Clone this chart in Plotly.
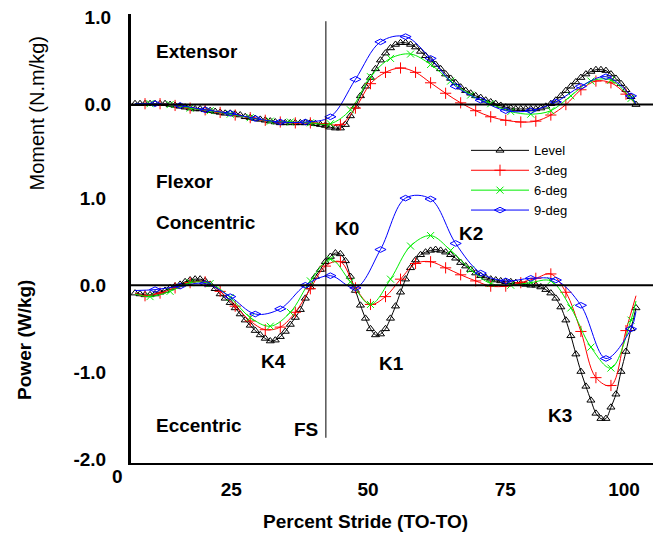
import plotly.graph_objects as go

# ---------------- data (percent of stride, toe-off to toe-off) ----------------
PCT_LEVEL = list(range(0, 101))
LEVEL_MOMENT = [
    0.01, 0.01, 0.01, 0.01, 0.01, 0.01, 0.01, 0.00, -0.01, -0.02,
    -0.03, -0.04, -0.05, -0.05, -0.06, -0.07, -0.08, -0.09, -0.10, -0.10,
    -0.11, -0.12, -0.14, -0.15, -0.16, -0.17, -0.18, -0.19, -0.20, -0.21,
    -0.21, -0.21, -0.21, -0.21, -0.21, -0.21, -0.22, -0.23, -0.24, -0.26,
    -0.27, -0.27, -0.23, -0.13, -0.02, 0.10, 0.21, 0.31, 0.41, 0.51,
    0.59, 0.65, 0.69, 0.71, 0.71, 0.69, 0.66, 0.61, 0.56, 0.51,
    0.46, 0.41, 0.35, 0.30, 0.25, 0.20, 0.16, 0.13, 0.10, 0.08,
    0.05, 0.03, 0.01, -0.01, -0.03, -0.04, -0.05, -0.05, -0.05, -0.05,
    -0.05, -0.04, -0.02, 0.01, 0.05, 0.10, 0.16, 0.21, 0.26, 0.31,
    0.35, 0.38, 0.40, 0.40, 0.39, 0.35, 0.30, 0.24, 0.17, 0.09,
    0.00,
]
LEVEL_POWER = [
    -0.09, -0.10, -0.11, -0.11, -0.10, -0.08, -0.06, -0.03, -0.01, 0.01,
    0.04, 0.06, 0.07, 0.07, 0.05, 0.01, -0.04, -0.10, -0.15, -0.20,
    -0.26, -0.33, -0.40, -0.46, -0.52, -0.57, -0.61, -0.64, -0.63, -0.59,
    -0.53, -0.45, -0.37, -0.28, -0.15, -0.02, 0.10, 0.18, 0.27, 0.33,
    0.37, 0.36, 0.28, 0.10, -0.06, -0.23, -0.38, -0.50, -0.57, -0.56,
    -0.50, -0.38, -0.24, -0.08, 0.07, 0.20, 0.29, 0.35, 0.38, 0.40,
    0.41, 0.40, 0.38, 0.35, 0.31, 0.26, 0.22, 0.18, 0.14, 0.11,
    0.09, 0.07, 0.06, 0.05, 0.04, 0.04, 0.03, 0.02, 0.01, 0.00,
    0.00, -0.02, -0.05, -0.09, -0.15, -0.25, -0.40, -0.58, -0.79, -0.99,
    -1.16, -1.32, -1.47, -1.53, -1.53, -1.40, -1.25, -0.99, -0.76, -0.50,
    -0.26,
]

PCT_3DEG = [0, 2, 5, 8, 11, 14, 17, 20, 23, 26, 29, 32, 35, 38, 41, 44, 47, 50,
            53, 56, 59, 62, 65, 68, 71, 74, 77, 80, 83, 86, 89, 92, 95, 98, 100]
MOMENT_3DEG = [0.01, 0.01, 0.01, -0.01, -0.04, -0.06, -0.09, -0.12, -0.15, -0.18,
               -0.20, -0.21, -0.21, -0.22, -0.23, -0.04, 0.24, 0.37, 0.42, 0.37,
               0.25, 0.13, 0.02, -0.07, -0.14, -0.18, -0.20, -0.19, -0.12, 0.00,
               0.17, 0.27, 0.25, 0.12, 0.00]
POWER_3DEG = [-0.09, -0.12, -0.09, -0.03, 0.03, 0.04, -0.07, -0.24, -0.41, -0.51,
              -0.48, -0.31, -0.04, 0.22, 0.27, -0.03, -0.22, -0.13, 0.07, 0.25,
              0.27, 0.20, 0.12, 0.05, -0.01, -0.01, 0.03, 0.08, 0.13, -0.08,
              -0.53, -1.06, -1.15, -0.52, -0.12]

PCT_6DEG = [0, 3, 7, 11, 15, 19, 23, 27, 31, 35, 39, 43, 47, 51, 55, 59, 63, 67,
            71, 75, 79, 83, 87, 91, 95, 99, 100]
MOMENT_6DEG = [0.01, 0.01, 0.00, -0.04, -0.07, -0.11, -0.15, -0.19, -0.20, -0.21,
               -0.22, -0.06, 0.32, 0.53, 0.58, 0.46, 0.27, 0.11, 0.01, -0.08,
               -0.11, -0.07, 0.10, 0.27, 0.28, 0.07, 0.00]
POWER_6DEG = [-0.10, -0.13, -0.07, 0.03, 0.02, -0.14, -0.37, -0.47, -0.31, 0.05,
              0.30, 0.04, -0.22, 0.07, 0.45, 0.57, 0.40, 0.18, 0.02, 0.00,
              0.03, 0.05, -0.26, -0.71, -0.95, -0.40, -0.18]

PCT_9DEG = [0, 4, 9, 14, 19, 24, 29, 34, 39, 44, 49, 54, 59, 64, 69, 74, 79, 84,
            89, 94, 99, 100]
MOMENT_9DEG = [0.01, 0.01, -0.01, -0.06, -0.10, -0.16, -0.20, -0.20, -0.14, 0.29,
               0.72, 0.78, 0.53, 0.21, 0.05, -0.07, -0.07, 0.03, 0.21, 0.32,
               0.10, 0.00]
POWER_9DEG = [-0.06, -0.05, -0.01, 0.02, -0.13, -0.33, -0.27, 0.00, 0.11, -0.03,
              0.41, 1.00, 0.99, 0.48, 0.14, 0.05, 0.08, 0.06, -0.23, -0.84,
              -0.50, -0.30]

SERIES_NAMES = ["Level", "3-deg", "6-deg", "9-deg"]
FOOT_STRIKE_PCT = 38.1

# tick labels as printed on the original (they sit off the data grid there)
X_TICK_POS = [19.2, 46.5, 73.9, 97.6]
X_TICK_TEXT = ["25", "50", "75", "100"]
POWER_TICKS = [-2, -1, 0, 1]
POWER_TICK_TEXT = ["-2.0", "-1.0", "0.0", "1.0"]
MOMENT_TICKS = [0, 1]
MOMENT_TICK_TEXT = ["0.0", "1.0"]

# ---------------- styling ----------------
FONT = "Liberation Sans, Arial, sans-serif"
styles = [
    dict(color="#000000", symbol="triangle-up-open", size=7, every_point=True, smooth=0.8),
    dict(color="#ff0000", symbol="cross-thin-open", size=8, every_point=False, smooth=1.0),
    dict(color="#00ee00", symbol="x-thin-open", size=7, every_point=False, smooth=1.0),
    dict(color="#0000ff", symbol="diamond-wide-open", size=8, every_point=False, smooth=1.0),
]
series_data = [
    (PCT_LEVEL, LEVEL_MOMENT, LEVEL_POWER),
    (PCT_3DEG, MOMENT_3DEG, POWER_3DEG),
    (PCT_6DEG, MOMENT_6DEG, POWER_6DEG),
    (PCT_9DEG, MOMENT_9DEG, POWER_9DEG),
]

fig = go.Figure()

for name, st, (xs, mom, pw) in zip(SERIES_NAMES, styles, series_data):
    line = dict(color=st["color"], width=1, shape="spline", smoothing=st["smooth"])
    marker = dict(symbol=st["symbol"], size=st["size"], color=st["color"],
                  line=dict(color=st["color"], width=1))
    sl = slice(None) if st["every_point"] else slice(1, -1)
    for ys, yax in ((mom, "y2"), (pw, "y")):
        fig.add_trace(go.Scatter(x=xs, y=ys, mode="lines", line=line,
                                 yaxis=yax, showlegend=False, hoverinfo="skip"))
        fig.add_trace(go.Scatter(x=xs[sl], y=ys[sl], mode="markers", marker=marker,
                                 yaxis=yax, showlegend=False, name=name))
    # legend entry
    fig.add_trace(go.Scatter(x=[None], y=[None], mode="lines+markers", name=name,
                             line=dict(color=st["color"], width=1), marker=marker))

# geometry: plot area 130..653 px wide, 7..463 px tall, 88.5 px per unit
W, H = 661, 533
ML, MR, MT, MB = 130, 8, 7, 70
PX_PER_PCT = 5.01
X0_PX = 135
PX_PER_UNIT = 88.5
POWER_ZERO_PX = 282.5
MOMENT_ZERO_PX = 99
plot_h = H - MT - MB
x_range = [(ML - X0_PX) / PX_PER_PCT, (W - MR - X0_PX) / PX_PER_PCT]
power_range = [-(MT + plot_h - POWER_ZERO_PX) / PX_PER_UNIT, (POWER_ZERO_PX - MT) / PX_PER_UNIT]
moment_range = [-(MT + plot_h - MOMENT_ZERO_PX) / PX_PER_UNIT, (MOMENT_ZERO_PX - MT) / PX_PER_UNIT]

tickfont = dict(family=FONT, size=19, color="black", weight="bold")

fig.update_layout(
    width=W, height=H,
    margin=dict(l=ML, r=MR, t=MT, b=MB),
    paper_bgcolor="white", plot_bgcolor="white",
    font=dict(family=FONT, color="black"),
    xaxis=dict(range=x_range, showgrid=False, zeroline=False, showline=True,
               linecolor="black", linewidth=2, ticks="", tickvals=X_TICK_POS,
               ticktext=X_TICK_TEXT, tickfont=tickfont, ticklabelstandoff=8),
    yaxis=dict(range=power_range, showgrid=False, zeroline=False, showline=True,
               linecolor="black", linewidth=2, ticks="", tickvals=POWER_TICKS,
               ticktext=POWER_TICK_TEXT, tickfont=tickfont, ticklabelstandoff=18),
    yaxis2=dict(range=moment_range, overlaying="y", side="left", anchor="x",
                showgrid=False, zeroline=False, showline=False, ticks="",
                tickvals=MOMENT_TICKS, ticktext=MOMENT_TICK_TEXT, tickfont=tickfont,
                ticklabelstandoff=18),
    legend=dict(x=(466 - ML) / (W - ML - MR), xanchor="left",
                y=1 - (176 - MT) / plot_h, yanchor="middle",
                bgcolor="rgba(0,0,0,0)", itemwidth=58,
                font=dict(family=FONT, size=13, color="black")),
    showlegend=True,
)

# left axis line, zero lines and foot-strike line
fig.add_shape(type="line", xref="paper", x0=0, x1=0, yref="paper", y0=0, y1=1,
              line=dict(color="black", width=2))
fig.add_shape(type="line", xref="paper", x0=0, x1=1, yref="y2", y0=0, y1=0,
              line=dict(color="black", width=2))
fig.add_shape(type="line", xref="paper", x0=0, x1=1, yref="y", y0=0, y1=0,
              line=dict(color="black", width=2))
fig.add_shape(type="line", xref="x", x0=FOOT_STRIKE_PCT, x1=FOOT_STRIKE_PCT,
              yref="y", y0=-1.75, y1=3.03, line=dict(color="black", width=1))

bold = dict(family=FONT, size=19, color="black", weight="bold")
labels = [
    ("Extensor", 3.8, 2.68, "left"),
    ("Flexor", 3.8, 1.19, "left"),
    ("Concentric", 3.8, 0.72, "left"),
    ("Eccentric", 3.8, -1.61, "left"),
    ("FS", 34.1, -1.66, "center"),
    ("K0", 42.3, 0.65, "center"),
    ("K2", 67.1, 0.59, "center"),
    ("K4", 27.7, -0.88, "center"),
    ("K1", 51.1, -0.90, "center"),
    ("K3", 84.8, -1.49, "center"),
]
for txt, x, y, anc in labels:
    fig.add_annotation(text=txt, x=x, y=y, xref="x", yref="y", showarrow=False,
                       xanchor=anc, yanchor="middle", font=bold)

def px_to_paper(px, py):
    return (px - ML) / (W - ML - MR), 1 - (py - MT) / plot_h

ax, ay = px_to_paper(117, 477)
fig.add_annotation(text="0", x=ax, y=ay, xref="paper", yref="paper", showarrow=False,
                   xanchor="center", yanchor="middle", font=bold)
ax, ay = px_to_paper(37, 108)
fig.add_annotation(text="Moment (N.m/kg)", x=ax, y=ay, xref="paper", yref="paper",
                   showarrow=False, textangle=-90, xanchor="center", yanchor="middle",
                   font=dict(family=FONT, size=20, color="black"))
ax, ay = px_to_paper(25, 338)
fig.add_annotation(text="Power (W/kg)", x=ax, y=ay, xref="paper", yref="paper",
                   showarrow=False, textangle=-90, xanchor="center", yanchor="middle",
                   font=bold)
ax, ay = px_to_paper(365, 522)
fig.add_annotation(text="Percent Stride (TO-TO)", x=ax, y=ay, xref="paper", yref="paper",
                   showarrow=False, xanchor="center", yanchor="middle", font=bold)

# the page's default 8px body margin would shift the figure; remove it
fig.write_html("out.html", config={"displayModeBar": False},
               post_script="document.body.style.margin='0';document.body.style.padding='0';")
